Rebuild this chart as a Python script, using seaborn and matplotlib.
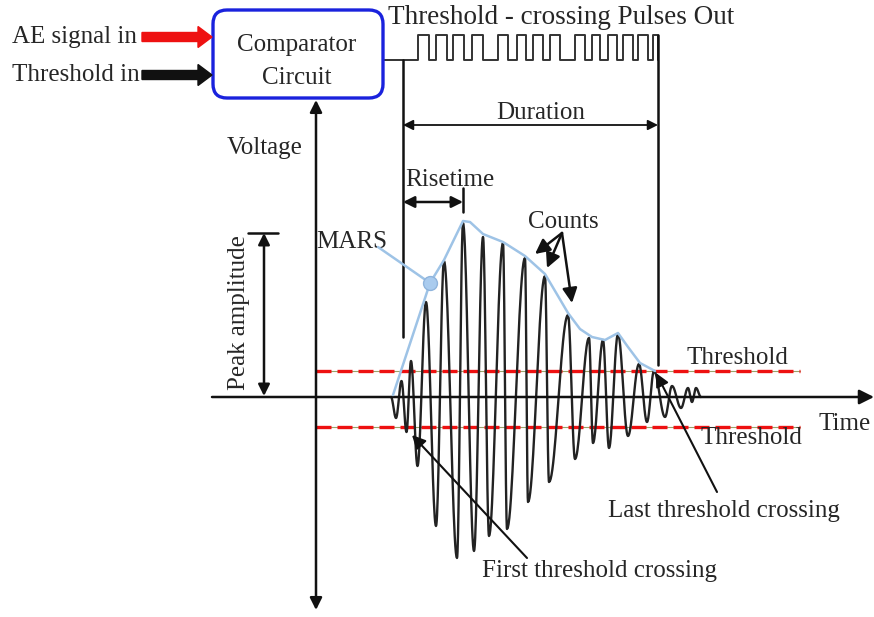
import numpy as np
import pandas as pd
import matplotlib
matplotlib.use("Agg")
import matplotlib.pyplot as plt
import seaborn as sns
from matplotlib.patches import FancyBboxPatch

# ---------------- data (time t, voltage v; origin at axes crossing) ----------------
# extrema of the AE burst waveform (alternating trough / peak)
wave_t = [75, 80, 85.5, 90.5, 95, 101.5, 110, 120, 128, 141, 147, 158, 167, 173, 187, 191,
          209, 212, 229, 233, 252, 259, 273, 277, 287, 293, 302, 312, 323, 331, 338, 349,
          356, 365, 372, 376, 380, 385]
wave_v = [0, -21, 16, -35, 36, -69, 95, -129, 136, -161, 174, -154, 160, -139, 154, -132,
          139, -105, 121, -85, 82, -62, 59, -46, 57, -51, 63, -39, 33, -25, 26, -20,
          11, -11, 9, -5, 9, 0]

# MARS envelope
env_t = [77, 114, 128, 147, 154, 167, 187, 209, 229, 242, 252, 264, 276, 289, 302, 312, 324, 339]
env_v = [2, 114, 137, 176, 175, 163, 155, 141, 123, 101, 84, 68, 60, 57, 64, 50, 34, 26]
mars_t, mars_v = 114, 114

# thresholds
thr_hi = 26
thr_lo = -30

# threshold-crossing pulses out (rise / fall times)
pulse_rise = [102, 120, 137, 156, 182, 201, 217, 234, 259, 276, 292, 307, 322, 337]
pulse_fall = [113, 131, 148, 167, 192, 210, 227, 244, 269, 284, 301, 317, 332, 342]
pulse_base, pulse_top = 337, 362

# timing features
duration_start, duration_end = 87, 342
rise_end = 147
peak_amp = 164

# ---------------- build dense curve through waveform extrema ----------------
def half_cos(t0, v0, t1, v1, n=24):
    s = np.linspace(0, 1, n)
    return t0 + (t1 - t0) * s, v0 + (v1 - v0) * (1 - np.cos(np.pi * s)) / 2

tt, vv = [], []
for i in range(len(wave_t) - 1):
    a, b = half_cos(wave_t[i], wave_v[i], wave_t[i + 1], wave_v[i + 1])
    tt.extend(a[:-1]); vv.extend(b[:-1])
tt.append(wave_t[-1]); vv.append(wave_v[-1])
wave_df = pd.DataFrame({"t": tt, "v": vv})
env_df = pd.DataFrame({"t": env_t, "v": env_v})

# ---------------- figure ----------------
sns.set_theme(style="white")
plt.rcParams["font.family"] = ["Liberation Serif", "DejaVu Serif"]

fig = plt.figure(figsize=(8.74, 6.17), dpi=100)
ax = fig.add_axes([0, 0, 1, 1])
ax.set_xlim(-316, 558)
ax.set_ylim(-220, 397)
ax.axis("off")

FS = 18
K = "#111111"

# thresholds (red dashed with thin olive guide)
for lvl in (thr_hi, thr_lo):
    ax.plot([0, 484], [lvl, lvl], color="#9aa26a", lw=0.8, zorder=1)
    ax.plot([0, 484], [lvl, lvl], color="#ee1111", lw=2.4, dashes=(4.5, 1.8), zorder=2)

# waveform
sns.lineplot(data=wave_df, x="t", y="v", sort=False, color="#222222", lw=1.7, ax=ax,
             zorder=3, estimator=None)
# envelope (MARS)
sns.lineplot(data=env_df, x="t", y="v", sort=False, color="#9ec3e6", lw=1.8, ax=ax,
             zorder=4, estimator=None)
ax.plot([mars_t], [mars_v], "o", ms=10, mfc="#a9cbee", mec="#8fb4dc", zorder=5)
ax.plot([62, mars_t], [150, mars_v], color="#9ec3e6", lw=1.8, zorder=4)
ax.text(36, 155, "MARS", fontsize=FS, ha="center", va="center")

# axes arrows
ax.annotate("", xy=(0, 297), xytext=(0, -213),
            arrowprops=dict(arrowstyle="<|-|>", color=K, lw=1.8, mutation_scale=18,
                            shrinkA=0, shrinkB=0))
ax.annotate("", xy=(558, 0), xytext=(-104, 0),
            arrowprops=dict(arrowstyle="-|>", color=K, lw=1.8, mutation_scale=22,
                            shrinkA=0, shrinkB=0))
ax.text(-51, 249, "Voltage", fontsize=FS, ha="center", va="center")
ax.text(529, -27, "Time", fontsize=FS, ha="center", va="center")
ax.text(421, 39, "Threshold", fontsize=FS, ha="center", va="center")
ax.text(435, -41, "Threshold", fontsize=FS, ha="center", va="center")

# comparator box
box = FancyBboxPatch((-103 + 14, 299 + 14), 170 - 28, 88 - 28,
                     boxstyle="round,pad=14", fc="white", ec="#1a22dd", lw=2.4, zorder=6)
ax.add_patch(box)
ax.text(-19, 352, "Comparator", fontsize=FS, ha="center", va="center", zorder=7)
ax.text(-19, 319, "Circuit", fontsize=FS, ha="center", va="center", zorder=7)

ax.arrow(-174, 360, 70, 0, width=9, head_width=21, head_length=14,
         length_includes_head=True, color="#ee1111", zorder=6)
ax.arrow(-174, 322, 70, 0, width=9, head_width=21, head_length=14,
         length_includes_head=True, color=K, zorder=6)
ax.text(-304, 360, "AE signal in", fontsize=FS, ha="left", va="center")
ax.text(-304, 322, "Threshold in", fontsize=FS, ha="left", va="center")

# pulses out
px, py = [67], [pulse_base]
for r, f in zip(pulse_rise, pulse_fall):
    px += [r, r, f, f]
    py += [pulse_base, pulse_top, pulse_top, pulse_base]
ax.plot(px, py, color="#333333", lw=1.4, solid_joinstyle="round")
ax.text(245.5, 380, "Threshold - crossing Pulses Out", fontsize=19.5, ha="center", va="center")

# duration
ax.plot([duration_start, duration_start], [pulse_base, 60], color=K, lw=1.8)
ax.plot([duration_end, duration_end], [pulse_top, 32], color=K, lw=1.8)
ax.annotate("", xy=(duration_end, 272), xytext=(duration_start, 272),
            arrowprops=dict(arrowstyle="<|-|>", color=K, lw=1.3, mutation_scale=15,
                            shrinkA=0, shrinkB=0))
ax.text(225, 284, "Duration", fontsize=FS, ha="center", va="center")

# risetime
ax.plot([rise_end, rise_end], [185, 209], color=K, lw=1.8)
ax.annotate("", xy=(rise_end, 195), xytext=(duration_start, 195),
            arrowprops=dict(arrowstyle="<|-|>", color=K, lw=1.8, mutation_scale=17,
                            shrinkA=0, shrinkB=0))
ax.text(134, 217, "Risetime", fontsize=FS, ha="center", va="center")

# peak amplitude
ax.plot([-68, -38], [peak_amp, peak_amp], color=K, lw=1.8)
ax.annotate("", xy=(-52, peak_amp), xytext=(-52, 1),
            arrowprops=dict(arrowstyle="<|-|>", color=K, lw=1.8, mutation_scale=17,
                            shrinkA=0, shrinkB=0))
ax.text(-77, 84, "Peak amplitude", fontsize=FS, ha="center", va="center", rotation=90)

# counts
ax.text(247, 175, "Counts", fontsize=FS, ha="center", va="center")
for tx, ty in [(219, 143), (231, 129), (256, 94)]:
    ax.annotate("", xy=(tx, ty), xytext=(246, 164),
                arrowprops=dict(arrowstyle="-|>", color=K, lw=1.8, mutation_scale=22,
                                shrinkA=0, shrinkB=0))

# first / last threshold crossing
ax.annotate("", xy=(96, -38), xytext=(211, -161),
            arrowprops=dict(arrowstyle="-|>", color=K, lw=1.5, mutation_scale=20,
                            shrinkA=0, shrinkB=0))
ax.text(284, -174, "First threshold crossing", fontsize=FS, ha="center", va="center")
ax.annotate("", xy=(340, 24), xytext=(401, -95),
            arrowprops=dict(arrowstyle="-|>", color=K, lw=1.5, mutation_scale=20,
                            shrinkA=0, shrinkB=0))
ax.text(408, -114, "Last threshold crossing", fontsize=FS, ha="center", va="center")

fig.savefig("out.png", dpi=100, facecolor="white")
